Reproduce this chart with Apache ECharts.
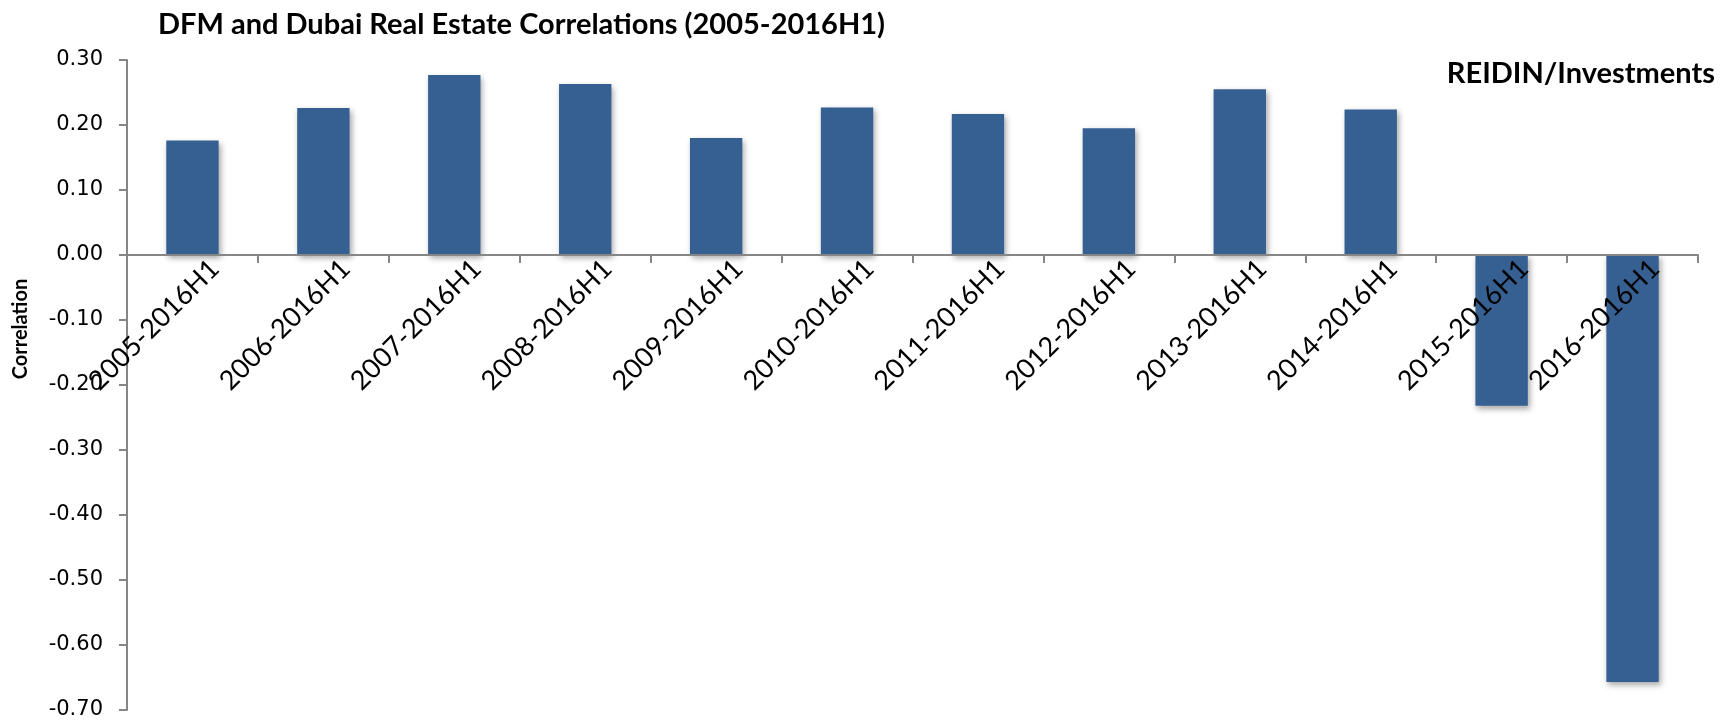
<!DOCTYPE html>
<html>
<head>
<meta charset="utf-8">
<script src="https://cdn.jsdelivr.net/npm/echarts@6/dist/echarts.min.js"></script>
<style>
  html, body { margin: 0; padding: 0; background: #ffffff; }
  #chart { width: 1735px; height: 721px; }
</style>
</head>
<body>
<div id="chart"></div>
<script>
// Correlation of DFM with Dubai real estate, by start year through 2016H1
const periods = [
  '2005-2016H1', '2006-2016H1', '2007-2016H1', '2008-2016H1',
  '2009-2016H1', '2010-2016H1', '2011-2016H1', '2012-2016H1',
  '2013-2016H1', '2014-2016H1', '2015-2016H1', '2016-2016H1'
];
const correlations = [
  0.176, 0.226, 0.277, 0.263, 0.180, 0.227,
  0.217, 0.195, 0.255, 0.224, -0.232, -0.657
];
const yMin = -0.7;
const yMax = 0.3;
const yStep = 0.1;

// plot area
const gridTop = 60;
const gridBottom = 11;
const chartHeight = 721;
const plotHeight = chartHeight - gridTop - gridBottom;
// lift the category axis (line, ticks, labels) up to the zero line
const zeroLift = -plotHeight * (0 - yMin) / (yMax - yMin);

const chart = echarts.init(document.getElementById('chart'), null, { renderer: 'canvas' });

chart.setOption({
  backgroundColor: '#ffffff',
  animation: false,
  title: {
    text: 'DFM and Dubai Real Estate Correlations (2005-2016H1)',
    left: 153,
    top: 5,
    textStyle: { fontFamily: 'Lato', fontWeight: 'bold', fontSize: 29, color: '#000000' }
  },
  graphic: [
    {
      type: 'text',
      right: 20,
      top: 59,
      style: {
        text: 'REIDIN/Investments',
        fontFamily: 'Lato',
        fontWeight: 'bold',
        fontSize: 29,
        fill: '#000000'
      }
    },
    {
      type: 'group',
      x: 21,
      y: 329,
      rotation: Math.PI / 2,
      children: [
        {
          type: 'text',
          x: 0,
          y: 0,
          style: {
            text: 'Correlation',
            font: 'bold 20px Lato',
            fill: '#000000',
            align: 'center',
            verticalAlign: 'middle'
          }
        }
      ]
    }
  ],
  grid: {
    left: 127, right: 37, top: gridTop, bottom: gridBottom,
    containLabel: false,
    outerBoundsMode: 'none'
  },
  xAxis: {
    type: 'category',
    data: periods,
    position: 'bottom',
    offset: zeroLift,
    z: 5,
    axisLine: { onZero: false, lineStyle: { color: '#868686', width: 2 } },
    axisTick: { show: true, length: 8, lineStyle: { color: '#868686', width: 2 } },
    axisLabel: {
      interval: 0,
      rotate: 45,
      margin: -13,
      verticalAlign: 'top',
      lineHeight: 63,
      fontFamily: 'Lato',
      fontSize: 27,
      color: '#000000'
    },
    splitLine: { show: false }
  },
  yAxis: {
    type: 'value',
    min: yMin,
    max: yMax,
    interval: yStep,
    axisLine: { show: true, lineStyle: { color: '#868686', width: 2 } },
    axisTick: { show: true, length: 8, lineStyle: { color: '#868686', width: 2 } },
    axisLabel: {
      margin: 24,
      fontFamily: 'DejaVu Sans',
      fontSize: 21,
      color: '#000000',
      formatter: v => v.toFixed(2)
    },
    splitLine: { show: false }
  },
  series: [
    {
      type: 'bar',
      data: correlations,
      barWidth: '40%',
      itemStyle: {
        color: '#376092',
        shadowColor: 'rgba(0,0,0,0.35)',
        shadowBlur: 6,
        shadowOffsetX: 2,
        shadowOffsetY: 3
      }
    }
  ]
});
</script>
</body>
</html>
